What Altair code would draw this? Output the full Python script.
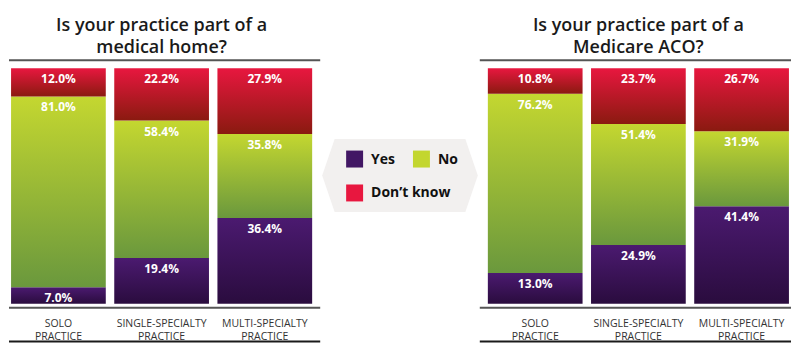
import altair as alt
import pandas as pd

practices = ["SOLO PRACTICE", "SINGLE-SPECIALTY PRACTICE", "MULTI-SPECIALTY PRACTICE"]
answers = ["Yes", "No", "Don’t know"]

home_yes = [7.0, 19.4, 36.4]
home_no = [81.0, 58.4, 35.8]
home_dk = [12.0, 22.2, 27.9]

aco_yes = [13.0, 24.9, 41.4]
aco_no = [76.2, 51.4, 31.9]
aco_dk = [10.8, 23.7, 26.7]

titles = [["Is your practice part of a", "medical home?"],
          ["Is your practice part of a", "Medicare ACO?"]]

flat_colors = ["#421764", "#c3d62f", "#e8173f"]
grad_stops = [("#4b1a70", "#2a0c3e"), ("#c4d730", "#6a983d"), ("#e8173f", "#8a1a10")]


def make_df(yes, no, dk):
    rows = []
    for i, p in enumerate(practices):
        for k, (a, v) in enumerate(zip(answers, [yes[i], no[i], dk[i]])):
            rows.append({"practice": p, "answer": a, "order": k, "value": v})
    return pd.DataFrame(rows)


one = pd.DataFrame({"a": [0]})
W, H, MID = 306, 236, 172


def gradient(top, bottom):
    return alt.LinearGradient(
        gradient="linear",
        stops=[alt.GradientStop(color=top, offset=0), alt.GradientStop(color=bottom, offset=1)],
        x1=0, x2=0, y1=0, y2=1,
    )


def panel(df, title, rx0, rx1):
    base = alt.Chart(df).transform_stack(
        stack="value", groupby=["practice"], as_=["y0", "y1"],
        sort=[alt.SortField("order", order="ascending")], offset="normalize",
    ).transform_calculate(label="format(datum.value, '.1f') + '%'")
    x = alt.X("practice:N", sort=practices,
              scale=alt.Scale(paddingInner=0.082, paddingOuter=0.02),
              axis=alt.Axis(title=None, domain=False, ticks=False, labelAngle=0,
                            labelExpr="split(datum.label, ' ')", labelPadding=15,
                            labelLineHeight=13, labelFont="Open Sans", labelFontSize=10.5,
                            labelColor="#333333"))
    y = alt.Y("y0:Q", scale=alt.Scale(domain=[0, 1], nice=False), axis=None)
    layers = []
    for ans, (t, b) in zip(answers, grad_stops):
        layers.append(
            base.transform_filter(alt.datum.answer == ans)
            .mark_bar(color=gradient(t, b))
            .encode(x=x, y=y, y2="y1:Q")
        )
    text = base.mark_text(color="white", font="Open Sans", fontSize=12, fontWeight="bold",
                          baseline="top", dy=6).encode(
        x=x, y=alt.Y("y1:Q", scale=alt.Scale(domain=[0, 1], nice=False), axis=None),
        text="label:N")
    top_rule = alt.Chart(one).mark_rule(color="#555555", strokeWidth=2).encode(
        x=alt.value(rx0), x2=alt.value(rx1), y=alt.value(-8))
    base_rule = alt.Chart(one).mark_rule(color="#555555", strokeWidth=2).encode(
        x=alt.value(rx0), x2=alt.value(rx1), y=alt.value(240))
    bot_rule = alt.Chart(one).mark_rule(color="#1a1a1a", strokeWidth=2).encode(
        x=alt.value(rx0), x2=alt.value(rx1), y=alt.value(274))
    return alt.layer(*layers, text, top_rule, base_rule, bot_rule).properties(
        width=W, height=H,
        title=alt.TitleParams(text=title, font="Open Sans", fontSize=18, fontWeight=600,
                              color="#1a1a1a", anchor="middle", offset=2, lineHeight=22),
    )


left = panel(make_df(home_yes, home_no, home_dk), titles[0], 0, 312)
right = panel(make_df(aco_yes, aco_no, aco_dk), titles[1], -6, 306)

hex_path = "M -1 0 L -0.84 -0.47 L 0.84 -0.47 L 1 0 L 0.84 0.47 L -0.84 0.47 Z"
hexagon = alt.Chart(one).mark_point(shape=hex_path, filled=True, color="#f2f0ef",
                                    opacity=1, size=24336).encode(
    x=alt.value(86), y=alt.value(107.5))

# legend entries laid out in a 2-column grid through scales
legend_df = pd.DataFrame({"answer": answers})
leg_base = alt.Chart(legend_df).transform_window(
    rn="row_number()"
).transform_calculate(
    col="(datum.rn - 1) % 2", row="floor((datum.rn - 1) / 2)"
)
lx = alt.X("col:Q", scale=alt.Scale(domain=[0, 1], range=[40.5, 107.5]), axis=None)
ly = alt.Y("row:Q", scale=alt.Scale(domain=[0, 1], range=[91, 125]), axis=None)
leg_sq = leg_base.mark_square(size=289, opacity=1, filled=True).encode(
    x=lx, y=ly,
    color=alt.Color("answer:N", scale=alt.Scale(domain=answers, range=flat_colors), legend=None))
leg_tx = leg_base.mark_text(align="left", baseline="middle", dx=16.5, dy=0.5, font="Open Sans",
                            fontSize=14, fontWeight="bold", color="#111111").encode(
    x=lx, y=ly, text="answer:N")
middle = alt.layer(hexagon, leg_sq, leg_tx).properties(width=MID, height=H)

chart = alt.hconcat(left, middle, right, spacing=0, bounds="flush").resolve_scale(
    x="independent", y="independent"
).properties(
    padding={"left": 0, "top": 9, "right": 0, "bottom": 5}
).configure_view(stroke=None)

chart.save("out.html", embed_options={"renderer": "svg", "actions": False})
